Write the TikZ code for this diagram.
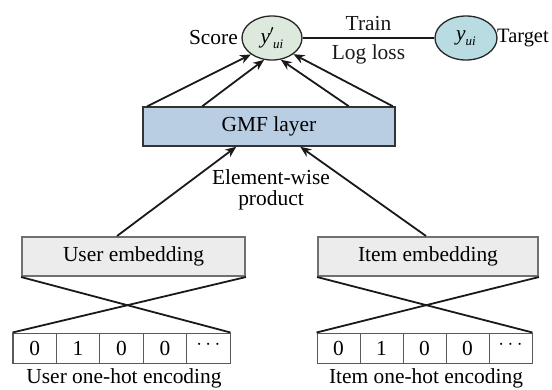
\documentclass[tikz,border=0pt]{standalone}
\usepackage{fontspec}
\setmainfont{Liberation Serif}
\usetikzlibrary{shapes.geometric,arrows.meta}
\definecolor{scorefill}{HTML}{DDE9DC}
\definecolor{targetfill}{HTML}{B9DCE3}
\definecolor{gmffill}{HTML}{B9CDE3}
\definecolor{embfill}{HTML}{ECECEC}
\definecolor{embborder}{HTML}{707070}
\begin{document}
\begin{tikzpicture}[x=1bp,y=-1bp,
  every node/.style={font=\fontsize{21.5}{24}\selectfont, inner sep=0pt},
  outnode/.style={ellipse, draw=black!85, line width=1.3bp, minimum width=60bp, minimum height=44bp},
  gmfbox/.style={draw=black!80, fill=gmffill, line width=1.5bp, minimum width=252bp, minimum height=39bp},
  embbox/.style={draw=embborder, fill=embfill, line width=2bp, minimum height=39bp},
  cell/.style={draw=black!65, fill=white, line width=1bp, minimum height=30bp, minimum width=43.4bp},
  conn/.style={line width=1.8bp, black!90},
  arr/.style={conn, -{Stealth[length=11bp,width=9bp]}}
]
\useasboundingbox (0,0) rectangle (552,389);
% output nodes
\node[outnode, fill=scorefill] (score) at (272,38) {\itshape y\kern-0.5pt$'$\kern-1pt\raisebox{-0.5ex}{\fontsize{13}{13}\selectfont ui}};
\node[outnode, fill=targetfill, minimum width=62bp, minimum height=44bp] (target) at (466,38) {\itshape y\raisebox{-0.5ex}{\fontsize{13}{13}\selectfont ui}};
\node[anchor=east] (scorelbl) at (238,38) {Score};
\node[anchor=west, font=\fontsize{20.5}{24}\selectfont] (targetlbl) at (497,38) {Target};
\draw[conn] (score.east) -- (target.west) node[midway, above=6bp] (train) {Train} node[midway, below=6bp] (logloss) {Log loss};
% GMF layer
\node[gmfbox] (gmf) at (269,126.5) {GMF layer};
\draw[arr] ([xshift=5bp]gmf.north west) -- (score.218);
\draw[arr] ([xshift=60bp]gmf.north west) -- (score.250);
\draw[arr] ([xshift=-47bp]gmf.north east) -- (score.292);
\draw[arr] ([xshift=-3bp]gmf.north east) -- (score.323);
% embeddings
\node[embbox, minimum width=223bp] (ue) at (133.5,256.5) {User embedding};
\node[embbox, minimum width=220bp] (ie) at (428,256.5) {Item embedding};
\node[align=center, font=\fontsize{21.5}{21.5}\selectfont] (ew) at (271,190) {Element-wise\\product};
\draw[arr] ([xshift=96bp]ue.north west) -- ([xshift=94bp]gmf.south west);
\draw[arr] ([xshift=109bp]ie.north west) -- ([xshift=158bp]gmf.south west);
% one-hot encodings
\foreach \v [count=\i] in {0,1,0,0,\raisebox{0.6ex}{$\cdots$}} {
  \node[cell] (u\i) at ({13+43.4*(\i-0.5)},348) {\v};
  \node[cell, minimum width=43bp] (i\i) at ({317+43*(\i-0.5)},348) {\v};
}
\draw[conn] (ue.south west) -- (u5.north east);
\draw[conn] (ue.south east) -- (u1.north west);
\draw[conn] (ie.south west) -- (i5.north east);
\draw[conn] (ie.south east) -- (i1.north west);
\node (ulbl) at (124,378) {User one-hot encoding};
\node (ilbl) at (426,378) {Item one-hot encoding};
\end{tikzpicture}
\end{document}
